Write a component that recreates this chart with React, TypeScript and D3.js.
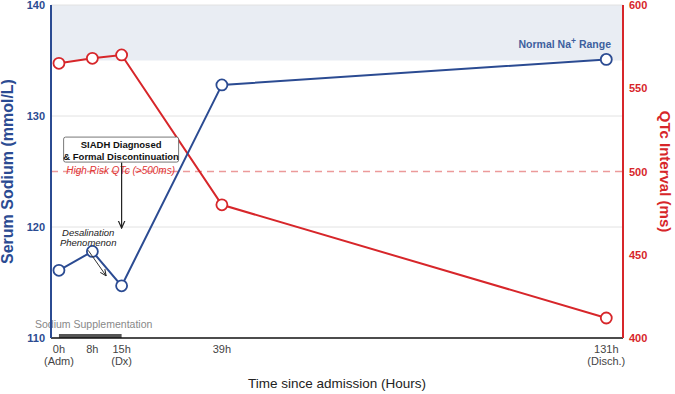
import React from 'react';
import * as d3 from 'd3';

const hours = [0, 8, 15, 39, 131];
const tickTop = ['0h', '8h', '15h', '39h', '131h'];
const tickBottom = ['(Adm)', '', '(Dx)', '', '(Disch.)'];
const sodium = [116.1, 117.8, 114.7, 132.8, 135.1];
const qtc = [565, 568, 570, 480, 412];
const sodiumTicks = [110, 120, 130, 140];
const qtcTicks = [400, 450, 500, 550, 600];
const normalRange = [135, 145];
const qtcRisk = 500;
const supplementation = [0, 15];

const BLUE = '#2b4b92';
const RED = '#d7262a';
const FONT = '"Liberation Sans", Arial, sans-serif';

const W = 675;
const H = 394;
const margin = { top: 5, right: 52, bottom: 56, left: 51 };

const App: React.FC = () => {
  const innerW = W - margin.left - margin.right;
  const innerH = H - margin.top - margin.bottom;
  const x = d3.scaleLinear().domain([-1.9, 135]).range([0, innerW]);
  const yNa = d3.scaleLinear().domain([110, 140]).range([innerH, 0]);
  const yQ = d3.scaleLinear().domain([400, 600]).range([innerH, 0]);

  const naLine = d3.line<number>().x((_, i) => x(hours[i])).y(d => yNa(d));
  const qLine = d3.line<number>().x((_, i) => x(hours[i])).y(d => yQ(d));

  const dxX = x(15);

  return (
    <svg width={W} height={H} style={{ position: 'absolute', left: 0, top: 0, fontFamily: FONT }}>
      <g transform={`translate(${margin.left},${margin.top})`}>
        {/* normal range band */}
        <rect x={0} y={yNa(Math.min(normalRange[1], 140))} width={innerW}
          height={yNa(normalRange[0]) - yNa(Math.min(normalRange[1], 140))} fill="#e9edf3" />
        {/* grid */}
        {sodiumTicks.slice(1).map(t => (
          <line key={t} x1={0} x2={innerW} y1={yNa(t)} y2={yNa(t)} stroke="#e2e2e2" strokeWidth={1} />
        ))}
        <line x1={0} x2={innerW} y1={yQ(qtcRisk)} y2={yQ(qtcRisk)} stroke="#ec9a9a"
          strokeWidth={1.3} strokeDasharray="7,5" />
        <text x={innerW - 12} y={yNa(136.1)} textAnchor="end" fontSize={10.5} fontWeight="bold" fill="#3d5f9e">
          Normal Na<tspan dy={-4} fontSize={8.5}>+</tspan><tspan dy={4}> Range</tspan>
        </text>

        {/* supplementation bar */}
        <line x1={x(supplementation[0])} x2={x(supplementation[1])} y1={innerH - 2} y2={innerH - 2}
          stroke="#555" strokeWidth={4} />
        <text x={-16} y={innerH - 10} fontSize={10.5} fill="#888">Sodium Supplementation</text>

        {/* lines */}
        <path d={qLine(qtc) || ''} fill="none" stroke={RED} strokeWidth={2} />
        <path d={naLine(sodium) || ''} fill="none" stroke={BLUE} strokeWidth={2} />
        {qtc.map((v, i) => (
          <circle key={'q' + i} cx={x(hours[i])} cy={yQ(v)} r={5.5} fill="#fff" stroke={RED} strokeWidth={1.8} />
        ))}
        {sodium.map((v, i) => (
          <circle key={'n' + i} cx={x(hours[i])} cy={yNa(v)} r={5.5} fill="#fff" stroke={BLUE} strokeWidth={1.8} />
        ))}

        {/* annotations */}
        <defs>
          <marker id="arr" viewBox="0 0 10 10" refX={9} refY={5} markerWidth={7} markerHeight={7} orient="auto">
            <path d="M0,1 L9,5 L0,9" fill="none" stroke="#222" strokeWidth={1.4} />
          </marker>
        </defs>
        <text x={dxX - 1} y={yQ(qtcRisk) + 2} textAnchor="middle" fontSize={10} fontStyle="italic" fill="#e03535">
          High Risk QTc (&gt;500ms)
        </text>
        <line x1={dxX} x2={dxX} y1={yNa(125.8)} y2={yNa(119.9)} stroke="#222" strokeWidth={1.2} markerEnd="url(#arr)" />
        <rect x={dxX - 58} y={yNa(128.1)} width={115} height={25} rx={2} fill="#fff" stroke="#555" strokeWidth={0.8} />
        <text x={dxX - 0.5} y={yNa(127.1)} textAnchor="middle" fontSize={9.5} fontWeight="bold" fill="#111">SIADH Diagnosed</text>
        <text x={dxX - 0.5} y={yNa(126.05)} textAnchor="middle" fontSize={9.5} fontWeight="bold" fill="#111">&amp; Formal Discontinuation</text>

        <text x={x(7)} y={yNa(119.2)} textAnchor="middle" fontSize={9.5} fontStyle="italic" fill="#222">Desalination</text>
        <text x={x(7)} y={yNa(118.3)} textAnchor="middle" fontSize={9.5} fontStyle="italic" fill="#222">Phenomenon</text>
        <line x1={x(7)} y1={yNa(117.9)} x2={x(11.3)} y2={yNa(115.6)} stroke="#333" strokeWidth={1} markerEnd="url(#arr)" />

        {/* axes */}
        <line x1={0} x2={innerW} y1={innerH} y2={innerH} stroke="#111" strokeWidth={1.5} />
        <line x1={0} x2={0} y1={0} y2={innerH} stroke={BLUE} strokeWidth={2} />
        <line x1={innerW} x2={innerW} y1={0} y2={innerH} stroke={RED} strokeWidth={2} />
        {sodiumTicks.map(t => (
          <text key={t} x={-6} y={yNa(t) + 4} textAnchor="end" fontSize={11} fontWeight="bold" fill={BLUE}>{t}</text>
        ))}
        {qtcTicks.map(t => (
          <text key={t} x={innerW + 6} y={yQ(t) + 4} fontSize={11} fontWeight="bold" fill={RED}>{t}</text>
        ))}
        {hours.map((h, i) => (
          <g key={h} transform={`translate(${x(h)},${innerH})`}>
            <text y={15} textAnchor="middle" fontSize={11} fill="#444">{tickTop[i]}</text>
            {tickBottom[i] && <text y={27} textAnchor="middle" fontSize={11} fill="#444">{tickBottom[i]}</text>}
          </g>
        ))}
        <text x={innerW / 2} y={innerH + 50} textAnchor="middle" fontSize={13.5} fill="#222">
          Time since admission (Hours)
        </text>
        <text transform={`translate(${-38},${innerH / 2}) rotate(-90)`} textAnchor="middle" fontSize={16}
          fontWeight="bold" fill={BLUE}>Serum Sodium (mmol/L)</text>
        <text transform={`translate(${innerW + 37},${innerH / 2}) rotate(90)`} textAnchor="middle" fontSize={15}
          fontWeight="bold" fill={RED}>QTc Interval (ms)</text>
      </g>
    </svg>
  );
};

export default App;
